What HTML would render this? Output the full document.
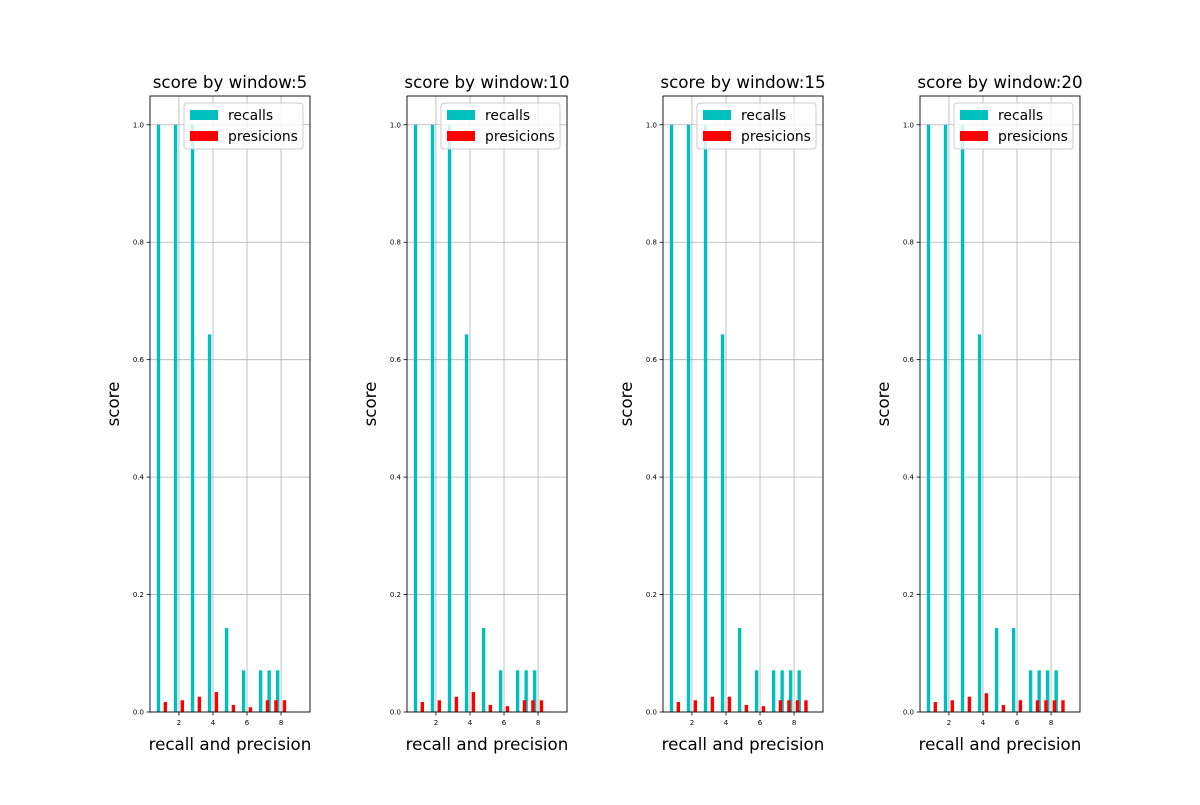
<!DOCTYPE html>
<html><head><meta charset="utf-8"><style>body{margin:0;background:#fff}svg text{font-family:"DejaVu Sans","Liberation Sans",sans-serif}</style></head>
<body>
<svg id="c" width="1200" height="800"></svg>
<script>
const titles=["score by window:5","score by window:10","score by window:15","score by window:20"];
const recallX=[[0.8,1.8,2.8,3.8,4.8,5.8,6.8,7.3,7.8],[0.8,1.8,2.8,3.8,4.8,5.8,6.8,7.3,7.8],[0.8,1.8,2.8,3.8,4.8,5.8,6.8,7.3,7.8,8.3],[0.8,1.8,2.8,3.8,4.8,5.8,6.8,7.3,7.8,8.3]];
const recallV=[[1,1,1,0.643,0.143,0.071,0.071,0.071,0.071],[1,1,1,0.643,0.143,0.071,0.071,0.071,0.071],[1,1,1,0.643,0.143,0.071,0.071,0.071,0.071,0.071],[1,1,1,0.643,0.143,0.143,0.071,0.071,0.071,0.071]];
const precX=[[1.2,2.2,3.2,4.2,5.2,6.2,7.2,7.7,8.2],[1.2,2.2,3.2,4.2,5.2,6.2,7.2,7.7,8.2],[1.2,2.2,3.2,4.2,5.2,6.2,7.2,7.7,8.2,8.7],[1.2,2.2,3.2,4.2,5.2,6.2,7.2,7.7,8.2,8.7]];
const precV=[[0.017,0.02,0.026,0.034,0.012,0.008,0.02,0.02,0.02],[0.017,0.02,0.026,0.034,0.012,0.01,0.02,0.02,0.02],[0.017,0.02,0.026,0.026,0.012,0.01,0.02,0.02,0.02,0.02],[0.017,0.02,0.026,0.032,0.012,0.02,0.02,0.02,0.02,0.02]];
const xTicks=[2,4,6,8];
const yTicks=[0,0.2,0.4,0.6,0.8,1.0];
const NS="http://www.w3.org/2000/svg";
const svg=document.getElementById('c');
function mk(t,a,p){const e=document.createElementNS(NS,t);for(const k in a)e.setAttribute(k,a[k]);(p||svg).appendChild(e);return e;}
const lefts=[150,407,663,920],W=160,topY=96,bot=712,xmin=0.3,xmax=9.7,ymax=1.049;
lefts.forEach((L,p)=>{
 const g=mk('g',{});
 
 
 const sx=v=>L+(v-xmin)/(xmax-xmin)*W, sy=v=>bot-v/ymax*(bot-topY);
 xTicks.forEach(t=>{mk('line',{x1:sx(t),x2:sx(t),y1:topY,y2:bot,stroke:'#b0b0b0','stroke-width':0.8},g);
  mk('line',{x1:sx(t),x2:sx(t),y1:bot,y2:bot+3.5,stroke:'#000','stroke-width':0.8},g);
  const tx=mk('text',{x:sx(t),y:bot+13,'font-size':7,'text-anchor':'middle'},g);tx.textContent=t;
  
  });
 yTicks.forEach(t=>{mk('line',{x1:L,x2:L+W,y1:sy(t),y2:sy(t),stroke:'#b0b0b0','stroke-width':0.8},g);
  mk('line',{x1:L-3.5,x2:L,y1:sy(t),y2:sy(t),stroke:'#000','stroke-width':0.8},g);
  const tx=mk('text',{x:L-6,y:sy(t)+2.5,'font-size':7,'text-anchor':'end'},g);tx.textContent=t.toFixed(1);
  
  });
 recallX[p].forEach((x,i)=>{const r=mk('rect',{x:sx(x-0.1),y:sy(recallV[p][i]),width:sx(x+0.1)-sx(x-0.1),height:bot-sy(recallV[p][i]),fill:'#00bfbf'},g);
  
  });
 precX[p].forEach((x,i)=>{const r=mk('rect',{x:sx(x-0.1),y:sy(precV[p][i]),width:sx(x+0.1)-sx(x-0.1),height:bot-sy(precV[p][i]),fill:'#ff0000'},g);
  
  });
 mk('rect',{x:L,y:topY,width:W,height:bot-topY,fill:'none',stroke:'#000','stroke-width':0.9},g);
 const ti=mk('text',{x:L+W/2,y:88,'font-size':16.7,'text-anchor':'middle'},g);ti.textContent=titles[p];
 
 
 const xl=mk('text',{x:L+W/2,y:750,'font-size':16.7,'text-anchor':'middle'},g);xl.textContent='recall and precision';
 
 
 const yl=mk('text',{x:0,y:0,'font-size':16.7,'text-anchor':'middle',transform:`translate(${L-31},${(topY+bot)/2}) rotate(-90)`},g);yl.textContent='score';
 
 
 const lg=mk('g',{},g);
 
 
 mk('rect',{x:L+34,y:103,width:119,height:46,rx:3,fill:'#fff','fill-opacity':0.8,stroke:'#ccc'},lg);
 mk('rect',{x:L+40,y:110,width:28,height:10,fill:'#00bfbf'},lg);
 mk('rect',{x:L+40,y:131,width:28,height:10,fill:'#ff0000'},lg);
 const l1=mk('text',{x:L+78,y:120,'font-size':13.9},lg);l1.textContent='recalls';
 
 
 const l2=mk('text',{x:L+78,y:141,'font-size':13.9},lg);l2.textContent='presicions';
 
 
});
</script>
</body></html>
